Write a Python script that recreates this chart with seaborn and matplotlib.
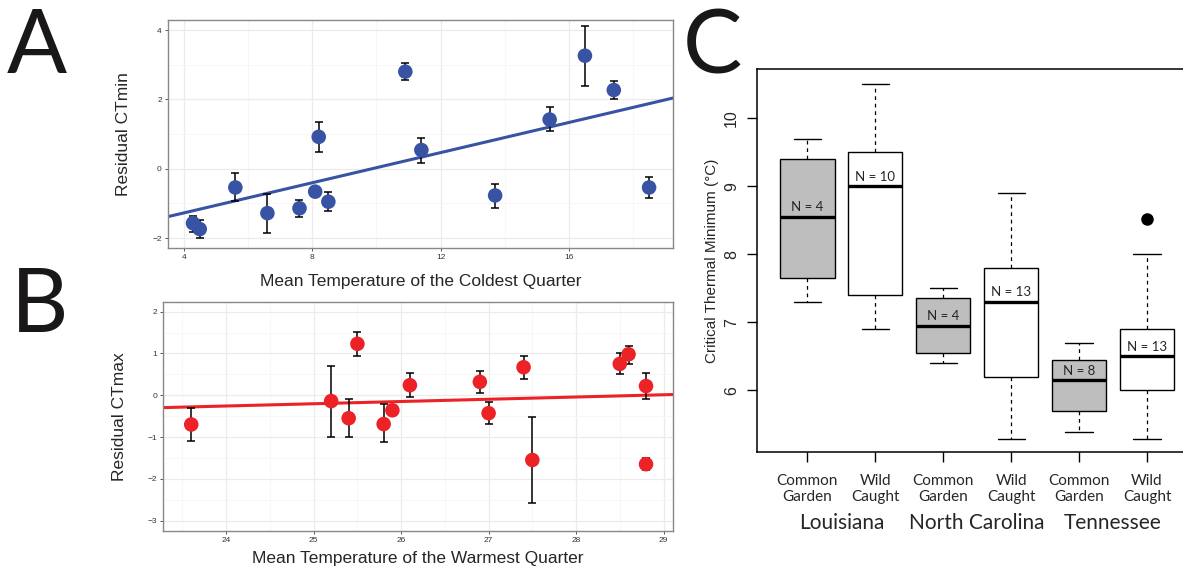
import matplotlib
matplotlib.use("Agg")
import matplotlib.pyplot as plt
import matplotlib.transforms as mtransforms
import numpy as np
import seaborn as sns
from matplotlib.ticker import MultipleLocator

# Panel A: residual CTmin vs mean temperature of the coldest quarter
coldest_temp = [4.28, 4.49, 5.6, 6.6, 7.6, 8.09, 8.2, 8.5, 10.9, 11.4, 13.7, 15.4, 16.5, 17.4, 18.5]
ctmin_resid = [-1.57, -1.74, -0.54, -1.28, -1.14, -0.66, 0.92, -0.95, 2.80, 0.54, -0.77, 1.42, 3.26, 2.27, -0.54]
ctmin_lo = [-1.81, -1.99, -0.93, -1.85, -1.38, -0.66, 0.48, -1.22, 2.56, 0.18, -1.12, 1.09, 2.40, 2.01, -0.83]
ctmin_hi = [-1.36, -1.47, -0.13, -0.72, -0.91, -0.66, 1.36, -0.68, 3.06, 0.90, -0.43, 1.77, 4.13, 2.54, -0.25]

# Panel B: residual CTmax vs mean temperature of the warmest quarter
warmest_temp = [23.6, 25.2, 25.4, 25.5, 25.8, 25.9, 26.1, 26.9, 27.0, 27.4, 27.5, 28.5, 28.6, 28.8, 28.8]
ctmax_resid = [-0.70, -0.14, -0.55, 1.23, -0.69, -0.36, 0.24, 0.32, -0.43, 0.67, -1.55, 0.75, 0.98, 0.22, -1.65]
ctmax_lo = [-1.10, -0.99, -1.00, 0.94, -1.13, -0.36, -0.04, 0.06, -0.70, 0.40, -2.58, 0.50, 0.75, -0.09, -1.79]
ctmax_hi = [-0.30, 0.70, -0.09, 1.52, -0.22, -0.36, 0.54, 0.59, -0.15, 0.95, -0.51, 1.01, 1.18, 0.54, -1.50]

# Panel C: critical thermal minimum boxplots
sites = ["Louisiana", "North Carolina", "Tennessee"]
origins = ["Common\nGarden", "Wild\nCaught"]
box_whislo = [7.30, 6.90, 6.40, 5.29, 5.39, 5.29]
box_q1 = [7.65, 7.40, 6.55, 6.20, 5.70, 6.00]
box_med = [8.55, 9.00, 6.95, 7.30, 6.15, 6.50]
box_q3 = [9.40, 9.50, 7.35, 7.80, 6.45, 6.90]
box_whishi = [9.70, 10.50, 7.50, 8.90, 6.70, 8.00]
box_fliers = [[], [], [], [], [], [8.51]]
box_n = [4, 10, 4, 13, 8, 13]

BLUE = "#3953A4"
RED = "#EC2227"

sns.set_style("white")
plt.rcParams["font.family"] = ["Liberation Sans", "DejaVu Sans"]


def residual_panel(ax, x, y, lo, hi, color, xlim, ylim, xstep, ystep, xlabel, ylabel, xpad):
    x = np.asarray(x)
    y = np.asarray(y)
    ax.set_xlim(xlim)
    ax.set_ylim(ylim)
    ax.xaxis.set_major_locator(MultipleLocator(xstep))
    ax.xaxis.set_minor_locator(MultipleLocator(xstep / 2))
    ax.yaxis.set_major_locator(MultipleLocator(ystep))
    ax.yaxis.set_minor_locator(MultipleLocator(ystep / 2))
    ax.grid(True, which="major", color="#EBEBEB", lw=0.9)
    ax.grid(True, which="minor", color="#F6F6F6", lw=0.6)
    ax.set_axisbelow(True)

    # regression line over the full panel width
    sns.regplot(x=x, y=y, ax=ax, scatter=False, ci=None, truncate=False,
                line_kws=dict(color=color, lw=2.2, zorder=2))
    ax.errorbar(x, y, yerr=[y - np.asarray(lo), np.asarray(hi) - y], fmt="none",
                ecolor="black", elinewidth=1.1, capsize=2.8, capthick=1.1, zorder=3)
    sns.scatterplot(x=x, y=y, ax=ax, color=color, s=110, edgecolor="none",
                    zorder=4, legend=False)
    ax.set_xlim(xlim)
    ax.set_ylim(ylim)

    for sp in ax.spines.values():
        sp.set_color("#888888")
        sp.set_linewidth(1.0)
    ax.tick_params(which="major", length=2.5, width=0.7, color="#555555",
                   labelsize=6, labelcolor="#333333", pad=2, bottom=True, left=True)
    ax.tick_params(which="minor", length=0)
    ax.set_xlabel(xlabel, fontsize=12.5, labelpad=xpad)
    ax.set_ylabel(ylabel, fontsize=12.5, labelpad=15)


fig = plt.figure(figsize=(11.83, 5.71), dpi=100)

ax_a = fig.add_axes([0.142, 0.566, 0.427, 0.399])
residual_panel(ax_a, coldest_temp, ctmin_resid, ctmin_lo, ctmin_hi, BLUE,
               (3.5, 19.25), (-2.28, 4.29), 4, 2,
               "Mean Temperature of the Coldest Quarter", "Residual CTmin", 9)

ax_b = fig.add_axes([0.138, 0.070, 0.431, 0.401])
residual_panel(ax_b, warmest_temp, ctmax_resid, ctmax_lo, ctmax_hi, RED,
               (23.28, 29.11), (-3.25, 2.23), 1, 1,
               "Mean Temperature of the Warmest Quarter", "Residual CTmax", 5)

# Panel C, right edge of the frame runs past the figure like the original crop
ax_c = fig.add_axes([0.640, 0.208, 0.372, 0.671])
positions = np.arange(1, len(box_med) + 1)
stats = []
for i in range(len(box_med)):
    stats.append(dict(med=box_med[i], q1=box_q1[i], q3=box_q3[i],
                      whislo=box_whislo[i], whishi=box_whishi[i],
                      fliers=box_fliers[i]))
bp = ax_c.bxp(stats, positions=positions, widths=0.8, capwidths=0.4,
              patch_artist=True,
              boxprops=dict(edgecolor="black", linewidth=1.0),
              medianprops=dict(color="black", linewidth=2.4, solid_capstyle="butt"),
              whiskerprops=dict(color="black", linewidth=0.9, linestyle=(0, (3, 3))),
              capprops=dict(color="black", linewidth=1.0),
              flierprops=dict(marker="o", markerfacecolor="black",
                              markeredgecolor="black", markersize=8))
for i, patch in enumerate(bp["boxes"]):
    patch.set_facecolor("#BEBEBE" if i % 2 == 0 else "white")

for pos, med, n in zip(positions, box_med, box_n):
    ax_c.annotate(f"N = {n}", (pos, med), xytext=(0, 2.5), textcoords="offset points",
                  ha="center", va="bottom", fontsize=9.5, family=["Lato", "DejaVu Sans"])

ax_c.set_xlim(0.26, 6.74)
ax_c.set_ylim(5.09, 10.72)
ax_c.set_yticks([6, 7, 8, 9, 10])
ax_c.set_yticklabels(["6", "7", "8", "9", "10"], rotation=90, va="center",
                     fontsize=11.5, family=["Liberation Sans", "DejaVu Sans"])
ax_c.set_xticks(positions)
ax_c.set_xticklabels(origins * len(sites), fontsize=11, linespacing=1.15,
                     family=["Lato", "DejaVu Sans"])
ax_c.tick_params(axis="both", length=7, width=1.0, color="black", pad=6,
                 bottom=True, left=True)
ax_c.tick_params(axis="x", pad=9)
for sp in ax_c.spines.values():
    sp.set_color("black")
    sp.set_linewidth(1.1)
ax_c.set_ylabel("Critical Thermal Minimum (°C)", fontsize=11, labelpad=4)

group_trans = mtransforms.blended_transform_factory(ax_c.transData, fig.transFigure)
for k, site in enumerate(sites):
    ax_c.text(positions[2 * k] + 0.5, 1 - 523 / 571, site, transform=group_trans,
              ha="center", va="center", fontsize=15, family=["Lato", "DejaVu Sans"])

# panel letters
for letter, x, y in [("A", 37 / 1183, 1 - 73 / 571), ("B", 40 / 1183, 1 - 332 / 571),
                     ("C", 712 / 1183, 1 - 74 / 571)]:
    fig.text(x, y, letter, ha="center", va="baseline", fontsize=64,
             family=["Lato", "DejaVu Sans"], color="#1A1718")

fig.savefig("out.png", dpi=100)
